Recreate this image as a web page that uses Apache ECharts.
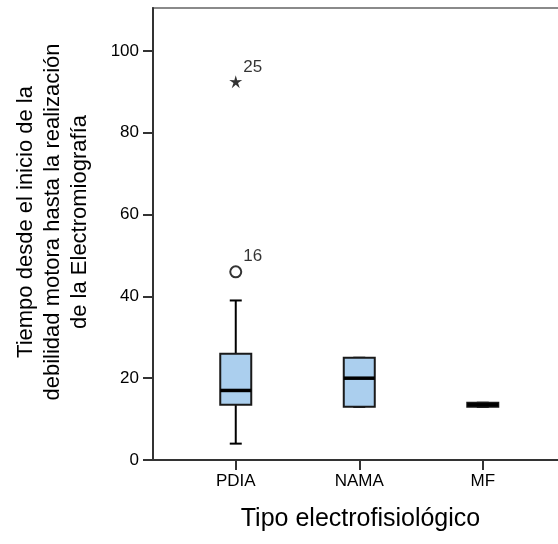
<!DOCTYPE html>
<html>
<head>
<meta charset="utf-8">
<script src="https://cdn.jsdelivr.net/npm/echarts@6/dist/echarts.min.js"></script>
<style>html,body{margin:0;padding:0;background:#fff}#c{width:558px;height:544px}</style>
</head>
<body>
<div id="c"></div>
<script>
const categories = ['PDIA', 'NAMA', 'MF'];
const mins    = [4, 13, 13];
const q1s     = [13.5, 13, 13];
const medians = [17, 20, 13.5];
const q3s     = [26, 25, 14];
const maxs    = [39, 25, 14];
const outlierCat   = [1, 1];
const outlierVal   = [46, 92.5];
const outlierLabel = ['16', '25'];
const outlierKind  = ['circle', 'star'];
const yTicks = [0, 20, 40, 60, 80, 100];

const FONT = "'Liberation Sans', Arial, sans-serif";
const boxData = categories.map((c, i) => [i + 1, mins[i], q1s[i], medians[i], q3s[i], maxs[i]]);
const circles = [], stars = [];
outlierVal.forEach((v, i) => {
  const item = { value: [outlierCat[i], v], label: { formatter: outlierLabel[i] } };
  (outlierKind[i] === 'circle' ? circles : stars).push(item);
});
const starPath = 'path://M0,-10 L2.06,-2.83 L9.51,-3.09 L3.33,1.08 L5.88,8.09 L0,3.5 L-5.88,8.09 L-3.33,1.08 L-9.51,-3.09 L-2.06,-2.83 Z';

const chart = echarts.init(document.getElementById('c'), null, { renderer: 'canvas' });
chart.setOption({
  animation: false,
  backgroundColor: '#fff',
  grid: { left: 153, top: 8, width: 415, height: 452, outerBoundsMode: 'none', containLabel: false, show: true, borderColor: '#8a8a8a', borderWidth: 2, backgroundColor: 'transparent' },
  xAxis: {
    type: 'value', min: 0.33, max: 3.69,
    splitLine: { show: false },
    axisLine: { show: true, onZero: false, lineStyle: { color: '#333', width: 2 } },
    axisTick: { show: true, customValues: [1, 2, 3], length: 10, lineStyle: { color: '#333', width: 2 } },
    axisLabel: { customValues: [1, 2, 3], formatter: v => categories[Math.round(v) - 1] || '', color: '#000', fontFamily: FONT, fontSize: 17, margin: 13 },
    name: 'Tipo electrofisiológico', nameLocation: 'middle', nameGap: 47,
    nameTextStyle: { color: '#000', fontFamily: FONT, fontSize: 25 }
  },
  yAxis: {
    type: 'value', min: 0, max: 110.5,
    splitLine: { show: false },
    axisLine: { show: true, lineStyle: { color: '#333', width: 2 } },
    axisTick: { show: true, customValues: yTicks, length: 10, lineStyle: { color: '#333', width: 2 } },
    axisLabel: { customValues: yTicks, color: '#000', fontFamily: FONT, fontSize: 17, margin: 14 },
    name: 'Tiempo desde el inicio de la\ndebilidad motora hasta la realización\nde la Electromiografía',
    nameLocation: 'middle', nameGap: 60,
    nameTextStyle: { color: '#000', fontFamily: FONT, fontSize: 22, lineHeight: 27, padding: [0, 0, 0, 24] }
  },
  series: [
    {
      type: 'custom',
      data: boxData,
      encode: { x: 0, y: [1, 2, 3, 4, 5] },
      renderItem: function (params, api) {
        const x = api.value(0);
        const pMin = api.coord([x, api.value(1)]);
        const pQ1 = api.coord([x, api.value(2)]);
        const pMed = api.coord([x, api.value(3)]);
        const pQ3 = api.coord([x, api.value(4)]);
        const pMax = api.coord([x, api.value(5)]);
        const cx = pMed[0];
        const bw = 31, cw = 12;
        const ln = { stroke: '#000', lineWidth: 2 };
        return {
          type: 'group',
          children: [
            { type: 'line', shape: { x1: cx, y1: pMax[1], x2: cx, y2: pQ3[1] }, style: ln },
            { type: 'line', shape: { x1: cx, y1: pQ1[1], x2: cx, y2: pMin[1] }, style: ln },
            { type: 'line', shape: { x1: cx - cw / 2, y1: pMax[1], x2: cx + cw / 2, y2: pMax[1] }, style: ln },
            { type: 'line', shape: { x1: cx - cw / 2, y1: pMin[1], x2: cx + cw / 2, y2: pMin[1] }, style: ln },
            { type: 'rect', shape: { x: cx - bw / 2, y: pQ3[1], width: bw, height: pQ1[1] - pQ3[1] }, style: { fill: '#abcfee', stroke: '#1a1a1a', lineWidth: 2 } },
            { type: 'line', shape: { x1: cx - bw / 2, y1: pMed[1], x2: cx + bw / 2, y2: pMed[1] }, style: { stroke: '#000', lineWidth: 3.5 } }
          ]
        };
      },
      z: 2
    },
    {
      type: 'scatter',
      data: circles,
      symbol: 'emptyCircle', symbolSize: 11,
      itemStyle: { color: '#000', borderColor: '#000', borderWidth: 1.8 },
      label: { show: true, position: 'inside', offset: [17, -16], color: '#000', fontFamily: FONT, fontSize: 17 },
      z: 3
    },
    {
      type: 'scatter',
      data: stars,
      symbol: starPath, symbolSize: 13,
      itemStyle: { color: '#000' },
      label: { show: true, position: 'inside', offset: [17, -14], color: '#000', fontFamily: FONT, fontSize: 17 },
      z: 3
    }
  ]
});
</script>
</body>
</html>
